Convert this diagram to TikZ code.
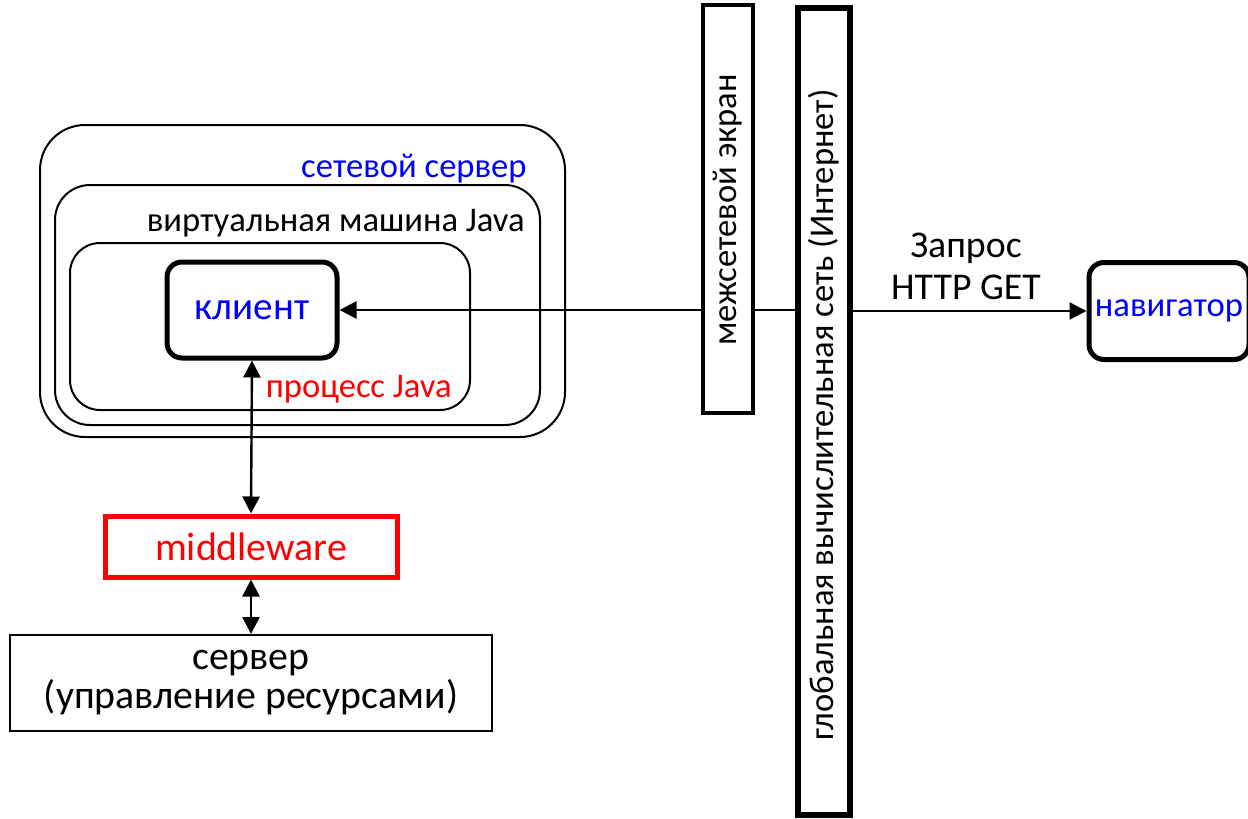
\documentclass[tikz,border=0pt]{standalone}
\usepackage{fontspec}
\setmainfont{Carlito}
\usetikzlibrary{arrows.meta}
\definecolor{txtblue}{RGB}{0,0,255}
\definecolor{txtred}{RGB}{255,0,0}
\begin{document}
\begin{tikzpicture}[x=0.5pt, y=-0.5pt, font=\fontsize{17.3}{20}\selectfont,
	every node/.style={inner sep=0pt},
	frame/.style={draw, line width=1pt, rounded corners=#1},
	bigbox/.style={draw, line width=2.5pt, rounded corners=7.5pt},
	wall/.style={draw, line width=#1},
	arr/.style={line width=1.2pt, -{Triangle[length=8.5pt,width=8.5pt]}},
	dblarr/.style={line width=1.2pt, {Triangle[length=8.5pt,width=8.5pt]}-{Triangle[length=8.5pt,width=8.5pt]}}]
		\useasboundingbox (0,0) rectangle (1248,819);
		% nested containers
		\node [frame=22.5pt, minimum width=262.5pt, minimum height=156pt] (srv) at (302.5,281) {};
		\node [frame=17.5pt, minimum width=242.5pt, minimum height=120pt] (jvm) at (297.5,305) {};
		\node [frame=15pt, minimum width=200pt, minimum height=83.5pt] (proc) at (270,326.5) {};
		\node [anchor=east, text=txtblue] (srvlbl) at (527,169) {сетевой сервер};
		\node [anchor=east] (jvmlbl) at (525,223) {виртуальная машина Java};
		\node [anchor=east, text=txtred] (proclbl) at (452,389) {процесс Java};
		\node [bigbox, minimum width=85pt, minimum height=48pt, text=txtblue,
			font=\fontsize{19.5}{23}\selectfont] (cl) at (252,310) {клиент};
		
		\node [wall=2pt, minimum width=25pt, minimum height=204pt] (fw) at (728,209) {};
		\node [rotate=90] (fwlbl) at (728,210) {межсетевой экран};
		\node [wall=3pt, minimum width=26pt, minimum height=403.5pt] (net) at (824,411.5) {};
		\node [rotate=90] (netlbl) at (824,415) {глобальная вычислительная сеть (Интернет)};
		
		\node [bigbox, minimum width=80pt, minimum height=48.5pt, text=txtblue] (nav) at (1169,311) {навигатор};
		\node [align=center, font=\fontsize{18.9}{21}\selectfont] (req) at (966,266) {Запрос\\HTTP GET};
		
		\node [wall=2.5pt, draw=txtred, text=txtred, minimum width=146pt, minimum height=30.5pt,
			font=\fontsize{19.9}{21}\selectfont] (mw) at (251,546.5) {middleware};
		\node [wall=1pt, minimum width=241pt, minimum height=48pt, align=center,
			font=\fontsize{19.9}{19.5}\selectfont] (res) at (251,683) {сервер\\(управление ресурсами)};
		
		\draw [arr] (fw.west |- cl.east) -- (cl.east);
		\draw [line width=1.2pt] (fw.east |- cl.east) -- (net.west |- cl.east);
		\draw [arr] (net.east |- nav.west) -- (nav.west);
		\draw [dblarr] (cl.south) -- (mw.north);
		\draw [dblarr] (mw.south) -- (res.north);
\end{tikzpicture}
\end{document}
